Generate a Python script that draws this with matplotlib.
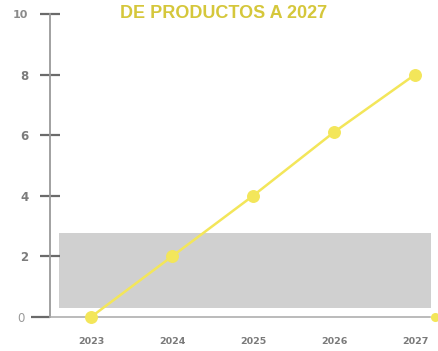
import numpy as np
import matplotlib
matplotlib.use("Agg")
import matplotlib.pyplot as plt
import matplotlib.markers as mmarkers
from matplotlib import font_manager

years = ['2023', '2024', '2025', '2026', '2027']
values = [0.0, 2.0, 4.0, 6.1, 8.0]
band = (0.3, 2.77)          # grey band, y range
yticks = [0, 2, 4, 6, 8, 10]
title = 'DE PRODUCTOS A 2027'

yellow = '#f3e65a'
title_col = '#d5c73b'

names = set(f.name for f in font_manager.fontManager.ttflist)
title_font = 'Liberation Sans Narrow' if 'Liberation Sans Narrow' in names else 'Liberation Sans'
title_size = 16 if title_font == 'Liberation Sans Narrow' else 13

fig = plt.figure(figsize=(4.39, 3.51), dpi=100)
ax = fig.add_axes([50/439, 34/351, 380/439, 303/351])

x = np.arange(len(years))
ax.set_xlim(-0.506, 4.185)
ax.set_ylim(0, 10)

# grey band
ax.fill_between([-0.395, 4.2], band[0], band[1], color='#d0d0d0', lw=0, zorder=1, clip_on=False)

ax.plot(x, values, color=yellow, lw=1.8, marker='o', ms=8.3, zorder=3, clip_on=False)
# dot at the end of x axis
ax.plot([1.014], [0], marker='o', ms=5.5, color=yellow, transform=ax.transAxes, clip_on=False, zorder=3)

for s in ['top', 'right']:
    ax.spines[s].set_visible(False)
ax.spines['left'].set_color('#9a9a9a')
ax.spines['left'].set_linewidth(1.3)
ax.spines['bottom'].set_color('#a8a8a8')
ax.spines['bottom'].set_linewidth(1.1)

ax.set_xticks(x)
ax.set_xticklabels(years, fontsize=6.8, fontweight='bold', color='#7a7a7a')
ax.tick_params(axis='x', length=0, pad=14.5)

ax.set_yticks(yticks)
ax.set_yticklabels([str(v) for v in yticks], fontsize=8.5, fontweight='bold', color='#7c7c7c')
ax.tick_params(axis='y', direction='inout', length=14, width=1.6, color='#6a6a6a', pad=8.5)

ticks = ax.yaxis.get_major_ticks()
t0 = ticks[0]
t0.tick1line.set_marker(mmarkers.TICKLEFT)
t0.tick1line.set_markersize(13.5)
t0.label1.set_fontweight('normal')
t0.label1.set_color('#9a9a9a')
t0.label1.set_x(-0.011)
ticks[-1].label1.set_fontweight('semibold')
ticks[-1].label1.set_color('#8a8a8a')
ticks[-1].label1.set_fontsize(8)

fig.text(224/439, 1 - 13/351, title, ha='center', va='center', fontsize=title_size,
         fontweight='bold', color=title_col, family=title_font)

fig.savefig('out.png', dpi=100)
